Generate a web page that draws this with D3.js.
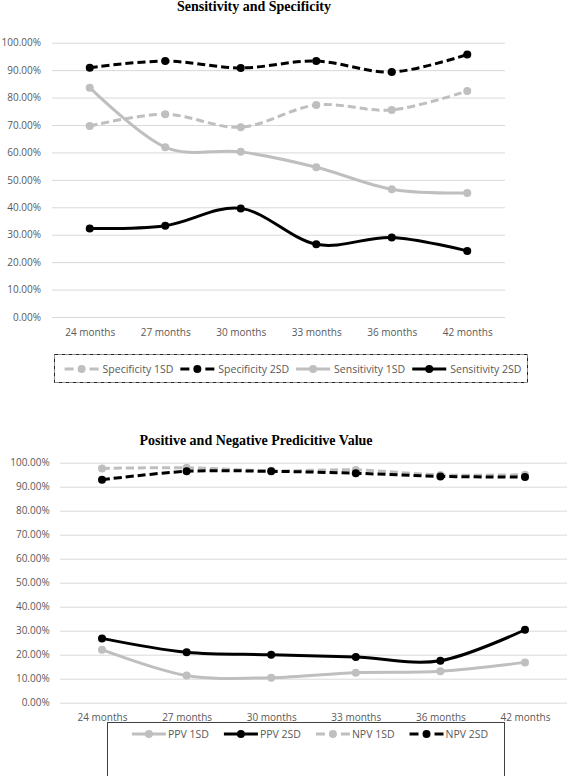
<!DOCTYPE html>
<html>
<head>
<meta charset="utf-8">
<script src="https://cdn.jsdelivr.net/npm/d3@7"></script>
<style>
  html, body { margin: 0; padding: 0; background: #fff; }
  svg { display: block; }
</style>
</head>
<body>
<svg id="chart" width="567" height="776"></svg>
<script>
// ---------- data ----------
const months = ["24 months", "27 months", "30 months", "33 months", "36 months", "42 months"];
const yTicks = [0, 0.1, 0.2, 0.3, 0.4, 0.5, 0.6, 0.7, 0.8, 0.9, 1.0];

const specificity1SD = [0.696, 0.739, 0.692, 0.773, 0.755, 0.824];
const specificity2SD = [0.909, 0.933, 0.908, 0.933, 0.893, 0.957];
const sensitivity1SD = [0.836, 0.619, 0.602, 0.546, 0.466, 0.452];
const sensitivity2SD = [0.323, 0.333, 0.396, 0.265, 0.290, 0.241];

const ppv1SD = [0.221, 0.113, 0.104, 0.125, 0.131, 0.168];
const ppv2SD = [0.268, 0.210, 0.200, 0.190, 0.175, 0.304];
const npv1SD = [0.976, 0.979, 0.966, 0.970, 0.949, 0.950];
const npv2SD = [0.929, 0.964, 0.964, 0.956, 0.943, 0.940];

const GRAY = "#BFBFBF", BLACK = "#000000";

const topSeries = [
  { name: "Specificity 1SD", values: specificity1SD, color: GRAY, dashed: true },
  { name: "Specificity 2SD", values: specificity2SD, color: BLACK, dashed: true },
  { name: "Sensitivity 1SD", values: sensitivity1SD, color: GRAY, dashed: false },
  { name: "Sensitivity 2SD", values: sensitivity2SD, color: BLACK, dashed: false }
];
const bottomSeries = [
  { name: "PPV 1SD", values: ppv1SD, color: GRAY, dashed: false },
  { name: "PPV 2SD", values: ppv2SD, color: BLACK, dashed: false },
  { name: "NPV 1SD", values: npv1SD, color: GRAY, dashed: true },
  { name: "NPV 2SD", values: npv2SD, color: BLACK, dashed: true }
];

const svg = d3.select("#chart");
const LABEL_FONT = "'Open Sans', 'Liberation Sans', sans-serif";

function drawChart(cfg) {
  const g = svg.append("g");
  const x = d3.scalePoint().domain(months).range([cfg.x0, cfg.x1]).padding(0.5);
  const y = d3.scaleLinear().domain([0, 1]).range([cfg.yBottom, cfg.yTop]);

  // gridlines + y labels
  const ya = g.append("g")
    .attr("transform", `translate(${cfg.x0},0)`)
    .call(d3.axisLeft(y).tickValues(yTicks).tickFormat(d3.format(".2%"))
      .tickSize(-(cfg.x1 - cfg.x0)).tickPadding(cfg.yPad));
  ya.select(".domain").remove();
  ya.selectAll(".tick line").attr("stroke", "#D9D9D9").attr("stroke-width", 1);
  ya.selectAll(".tick text").attr("fill", "#595959")
    .style("font-family", LABEL_FONT).style("font-size", "10px");

  // x labels
  const xa = g.append("g")
    .attr("transform", `translate(0,${cfg.yBottom})`)
    .call(d3.axisBottom(x).tickSize(0).tickPadding(cfg.xPad));
  xa.select(".domain").remove();
  xa.selectAll(".tick text").attr("fill", "#595959")
    .style("font-family", LABEL_FONT).style("font-size", "10px");

  // title
  g.append("text")
    .attr("x", cfg.titleX).attr("y", cfg.titleY)
    .attr("text-anchor", "middle")
    .style("font-family", "'Liberation Serif', 'Times New Roman', serif")
    .style("font-weight", "bold").style("font-size", "14px")
    .attr("fill", "#000").text(cfg.title);

  // series
  const line = d3.line()
    .x((d, i) => x(months[i]))
    .y(d => y(d))
    .curve(d3.curveCatmullRom.alpha(0));

  cfg.series.forEach(s => {
    g.append("path")
      .datum(s.values)
      .attr("fill", "none")
      .attr("stroke", s.color)
      .attr("stroke-width", 3)
      .attr("stroke-dasharray", s.dashed ? "8,4" : null)
      .attr("d", line);
    g.append("g").selectAll("circle")
      .data(s.values).join("circle")
      .attr("cx", (d, i) => x(months[i]))
      .attr("cy", d => y(d))
      .attr("r", 4)
      .attr("fill", s.color);
  });

  // legend
  const lg = g.append("g");
  lg.append("rect")
    .attr("x", cfg.legX0 + 0.5).attr("y", cfg.legY0 + 0.5)
    .attr("width", cfg.legX1 - cfg.legX0).attr("height", cfg.legY1 - cfg.legY0)
    .attr("fill", "none")
    .attr("stroke", cfg.legDashed ? "#222" : "#404040")
    .attr("stroke-width", 1)
    .attr("stroke-dasharray", cfg.legDashed ? "4,1,1,1" : null);

  const items = [];
  const mLen = 34;
  cfg.series.forEach(s => {
    const it = lg.append("g");
    if (s.dashed) {
      it.append("line").attr("x1", 0).attr("x2", 9).attr("y1", 0).attr("y2", 0)
        .attr("stroke", s.color).attr("stroke-width", 3);
      it.append("line").attr("x1", 25).attr("x2", 34).attr("y1", 0).attr("y2", 0)
        .attr("stroke", s.color).attr("stroke-width", 3);
    } else {
      it.append("line").attr("x1", 0).attr("x2", mLen).attr("y1", 0).attr("y2", 0)
        .attr("stroke", s.color).attr("stroke-width", 3);
    }
    it.append("circle").attr("cx", mLen / 2).attr("cy", 0).attr("r", 4).attr("fill", s.color);
    const t = it.append("text").attr("x", mLen + cfg.legTextGap).attr("y", 0).attr("dy", "0.35em")
      .attr("fill", "#595959")
      .style("font-family", LABEL_FONT).style("font-size", "10.5px")
      .text(s.name);
    const w = mLen + cfg.legTextGap + t.node().getComputedTextLength();
    items.push({ it, w });
  });
  const total = d3.sum(items, d => d.w) + cfg.legItemGap * (items.length - 1);
  let cx = cfg.legCenter - total / 2;
  items.forEach(d => {
    d.it.attr("transform", `translate(${cx},${cfg.legItemY})`);
    cx += d.w + cfg.legItemGap;
  });
}

drawChart({
  title: "Sensitivity and Specificity",
  titleX: 254, titleY: 10.5,
  x0: 52, x1: 505, yTop: 42.7, yBottom: 317,
  yPad: 11, xPad: 12,
  series: topSeries,
  legX0: 54, legX1: 527, legY0: 354, legY1: 382, legDashed: true,
  legCenter: 293, legItemY: 369, legTextGap: 4, legItemGap: 7
});

drawChart({
  title: "Positive and Negative Predicitive Value",
  titleX: 256, titleY: 445,
  x0: 59.7, x1: 567.3, yTop: 462.7, yBottom: 702.7,
  yPad: 10, xPad: 11,
  series: bottomSeries,
  legX0: 107, legX1: 504, legY0: 722, legY1: 790, legDashed: false,
  legCenter: 310, legItemY: 734, legTextGap: 2, legItemGap: 15
});
</script>
</body>
</html>
